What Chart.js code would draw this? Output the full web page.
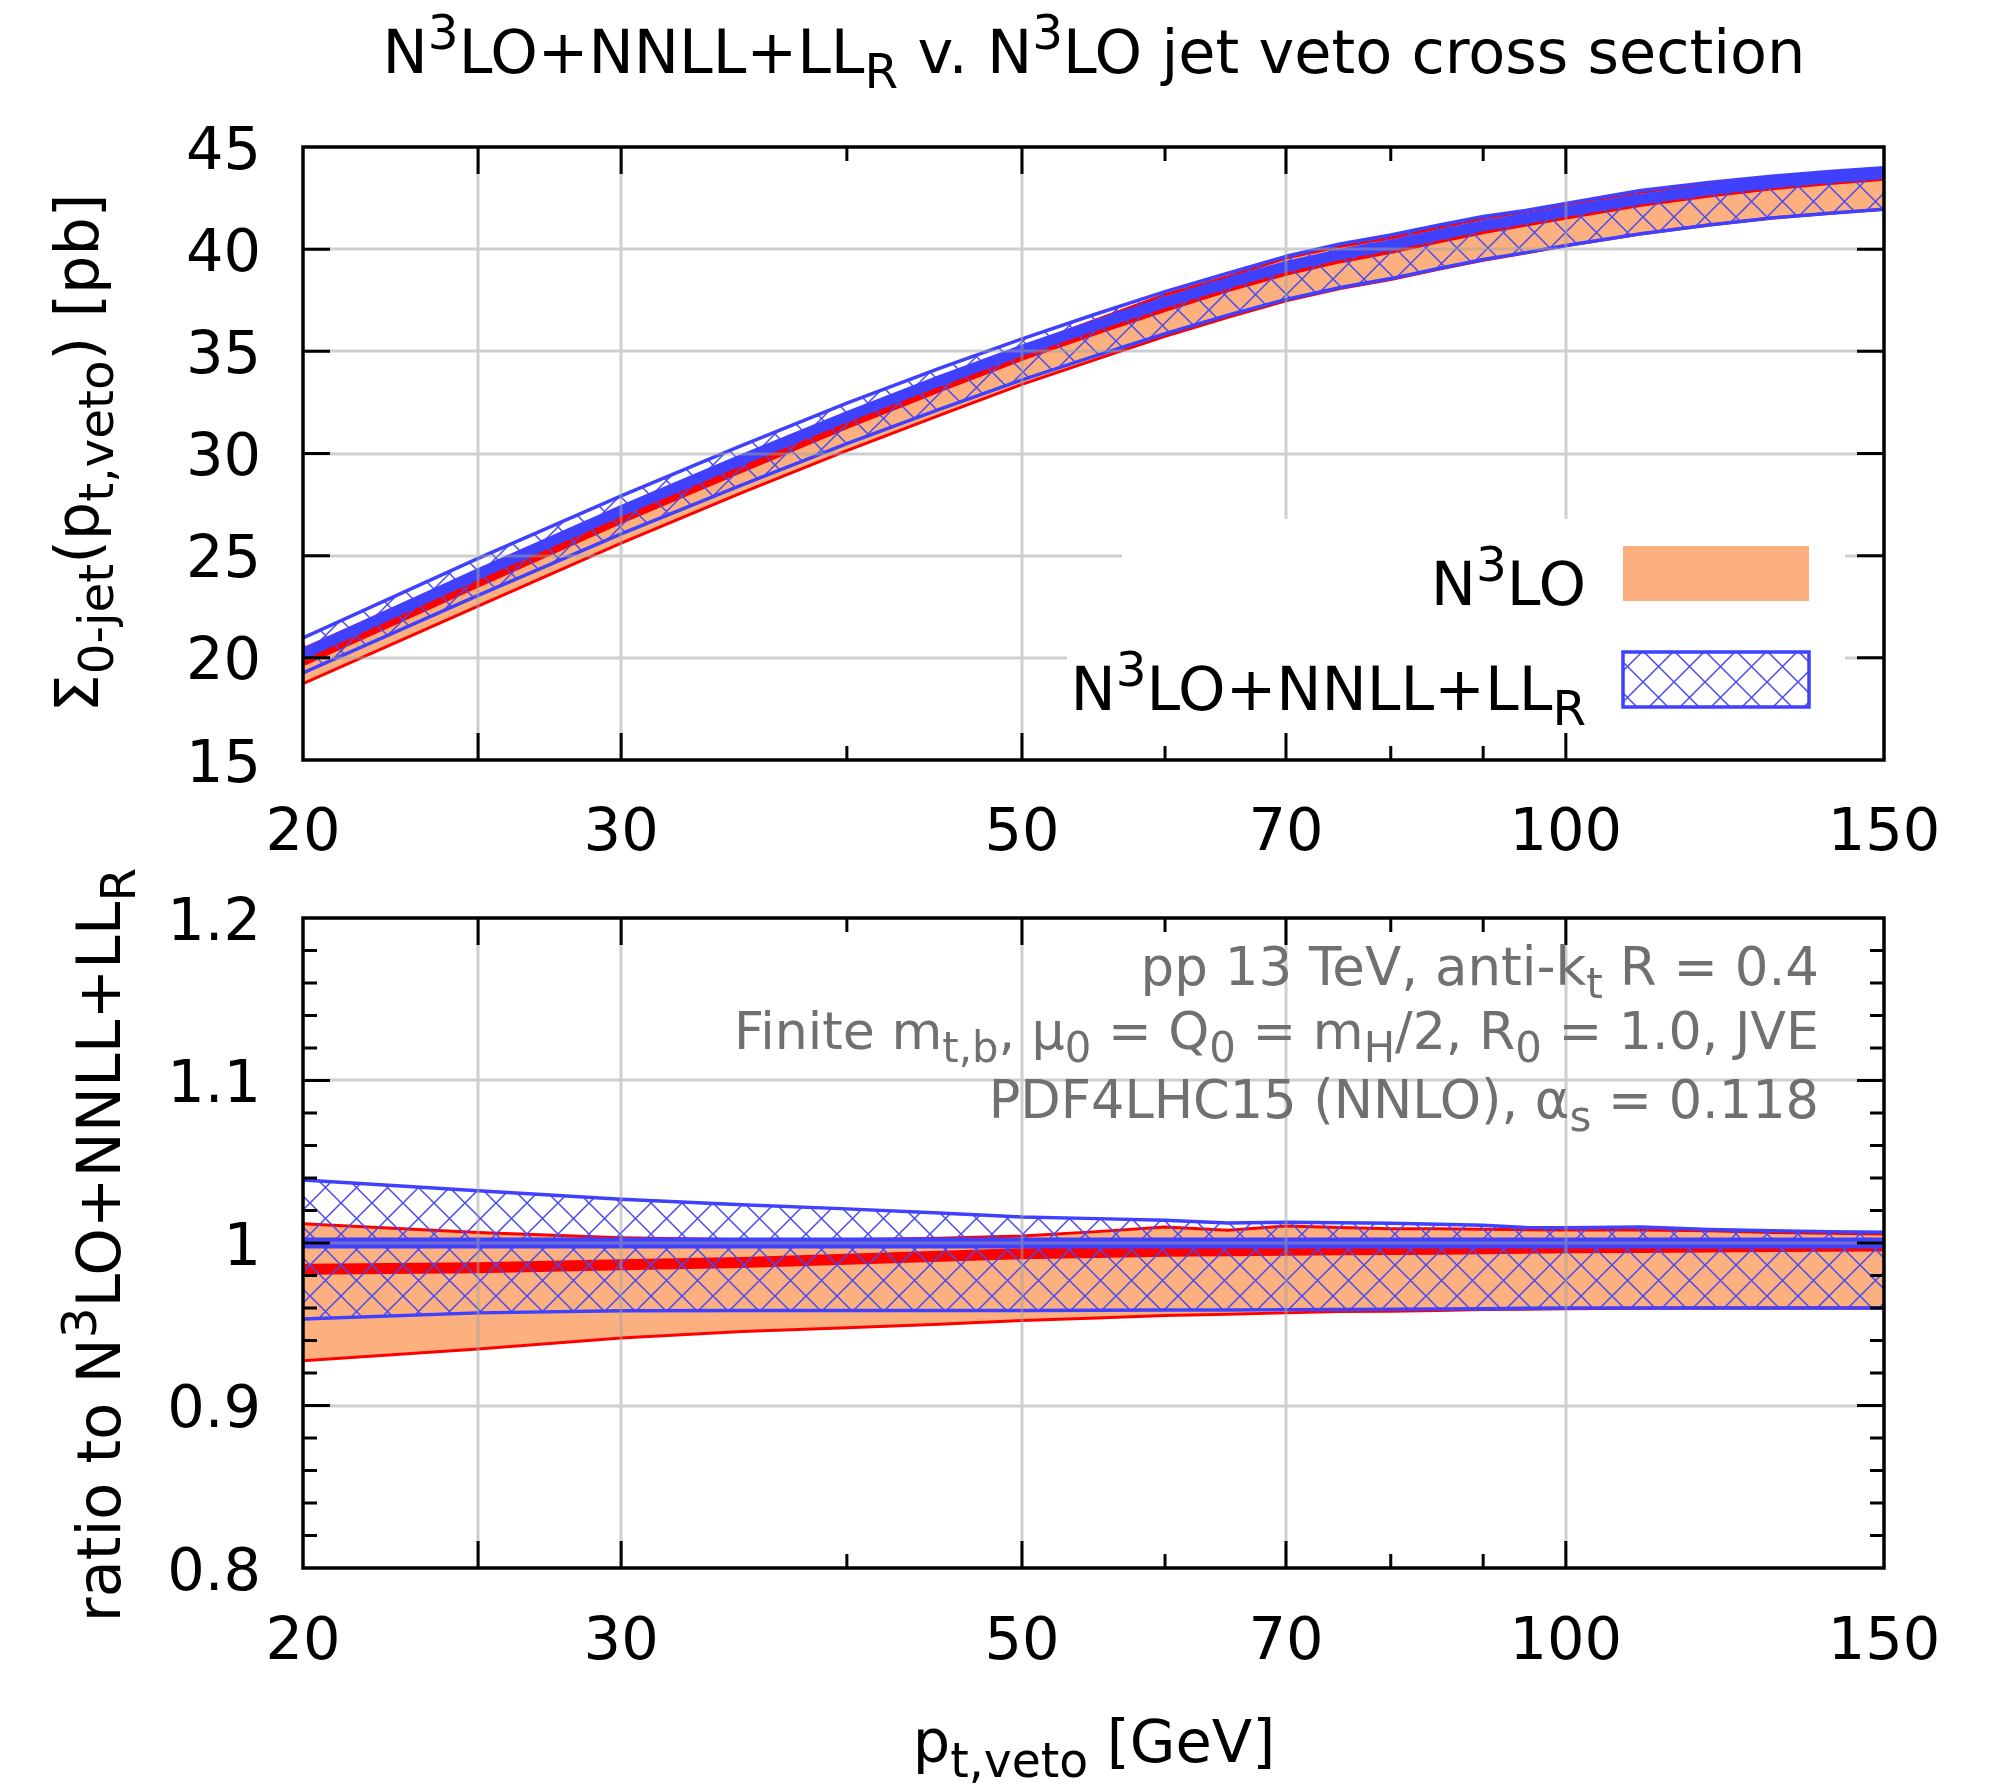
<!DOCTYPE html>
<html>
<head>
<meta charset="utf-8">
<script src="https://cdn.jsdelivr.net/npm/chart.js@4.4.0/dist/chart.umd.min.js"></script>
<style>
body{margin:0;background:#fff;width:1999px;height:1784px;position:relative;overflow:hidden}
canvas{position:absolute;left:0}
#top{top:0}
#bot{top:800px}
</style>
</head>
<body>
<canvas id="top" width="1999" height="880"></canvas>
<canvas id="bot" width="1999" height="984"></canvas>
<script>
// pt,veto [GeV]
var ptveto = [20,25,30,35,40,45,50,55,60,65,70,75,80,85,90,95,100,110,120,130,140,150];

// top panel, Sigma_0-jet [pb]
var n3loLo  = [18.74,22.53,25.61,28.08,30.14,31.87,33.38,34.62,35.73,36.67,37.47,38.07,38.51,39.01,39.46,39.81,40.16,40.74,41.18,41.52,41.76,41.95];
var n3loMid = [19.87,23.73,26.84,29.34,31.48,33.27,34.82,36.09,37.21,38.17,38.97,39.58,40.04,40.55,41.01,41.37,41.72,42.34,42.80,43.15,43.41,43.62];
var n3loHi  = [20.44,24.25,27.29,29.76,31.86,33.65,35.20,36.55,37.77,38.65,39.56,40.13,40.55,41.05,41.50,41.84,42.18,42.79,43.22,43.53,43.76,43.94];
var resLo   = [19.26,23.06,26.07,28.47,30.48,32.16,33.60,34.80,35.86,36.77,37.54,38.12,38.56,39.05,39.49,39.83,40.18,40.75,41.18,41.52,41.76,41.95];
var resMid  = [20.20,24.10,27.20,29.70,31.80,33.55,35.05,36.30,37.40,38.35,39.15,39.75,40.20,40.70,41.15,41.50,41.85,42.45,42.90,43.25,43.50,43.70];
var resHi   = [20.98,24.87,27.93,30.40,32.47,34.17,35.61,36.84,37.92,38.82,39.65,40.25,40.69,41.17,41.60,41.89,42.24,42.87,43.26,43.57,43.80,43.99];

// bottom panel, ratio to N3LO+NNLL+LLR
var rN3loLo  = [0.9276,0.9348,0.9416,0.9455,0.9478,0.9500,0.9523,0.9538,0.9554,0.9562,0.9570,0.9578,0.9580,0.9585,0.9590,0.9592,0.9595,0.9598,0.9600,0.9600,0.9600,0.9600];
var rN3loMid = [0.9838,0.9848,0.9866,0.9880,0.9900,0.9918,0.9934,0.9942,0.9949,0.9953,0.9955,0.9958,0.9960,0.9962,0.9965,0.9968,0.9970,0.9973,0.9976,0.9978,0.9980,0.9982];
var rN3loHi  = [1.0119,1.0064,1.0033,1.0020,1.0020,1.0030,1.0043,1.0070,1.0099,1.0078,1.0105,1.0095,1.0088,1.0087,1.0085,1.0082,1.0080,1.0080,1.0075,1.0065,1.0060,1.0055];
var rResLo   = [0.9533,0.9570,0.9583,0.9585,0.9585,0.9585,0.9585,0.9586,0.9587,0.9588,0.9590,0.9591,0.9592,0.9594,0.9596,0.9598,0.9600,0.9600,0.9600,0.9600,0.9600,0.9600];
var rResMid  = [1,1,1,1,1,1,1,1,1,1,1,1,1,1,1,1,1,1,1,1,1,1];
var rResHi   = [1.0387,1.0321,1.0269,1.0235,1.0210,1.0185,1.0160,1.0150,1.0140,1.0123,1.0128,1.0125,1.0122,1.0115,1.0109,1.0095,1.0094,1.0099,1.0083,1.0075,1.0070,1.0066];

// ticks
var xLabels = [20,30,50,70,100,150];
var xMajor = [25,30,50,70,100];
var xMinor = [40,60,80,90];
var yTopLabels = [15,20,25,30,35,40,45];
var yTopMajor = [20,25,30,35,40];
var yBotLabels = [0.8,0.9,1.0,1.1,1.2];
var yBotMajor = [0.9,1.0,1.1];
var yBotMinor = [0.82,0.84,0.86,0.88,0.92,0.94,0.96,0.98,1.02,1.04,1.06,1.08,1.12,1.14,1.16,1.18];

var FONT = '"DejaVu Sans"';
var FS = 59;     // tick labels, x title
var FT = 60.5;   // title, key, y titles
var orange = '#fcb080';
var red = '#ff0000';
var blue = '#4040ff';

Chart.defaults.font.family = FONT;

function hatch(){
  var c = document.createElement('canvas');
  c.width = 31; c.height = 31;
  var g = c.getContext('2d');
  g.strokeStyle = '#4a4af2';
  g.lineWidth = 1.5;
  g.beginPath();
  g.moveTo(-4,-4); g.lineTo(35,35);
  g.moveTo(35,-4); g.lineTo(-4,35);
  g.stroke();
  return g.createPattern(c,'repeat');
}

function pts(arr){
  return ptveto.map(function(x,i){ return {x:x, y:arr[i]}; });
}
function band(hi, target, bg, ord){
  return {data:pts(hi), borderColor:'rgba(0,0,0,0)', borderWidth:0, pointRadius:0, fill:target, backgroundColor:bg, order:ord};
}
function line(arr, col, w, ord){
  return {data:pts(arr), borderColor:col, borderWidth:w, pointRadius:0, fill:false, order:ord, borderJoinStyle:'round'};
}

// text with gnuplot style sub/superscripts: [text, 0 normal | 1 sup | -1 sub]
function richWidth(ctx, parts, size){
  var w = 0;
  parts.forEach(function(p){
    ctx.font = (p[1] ? size*0.8 : size) + 'px ' + FONT;
    w += ctx.measureText(p[0]).width;
  });
  return w;
}
function richText(ctx, parts, x, y, align, size, col){
  var w = richWidth(ctx, parts, size);
  var cx = align=='right' ? x-w : (align=='center' ? x-w/2 : x);
  ctx.fillStyle = col;
  ctx.textAlign = 'left';
  ctx.textBaseline = 'alphabetic';
  parts.forEach(function(p){
    var s = p[1] ? size*0.8 : size;
    ctx.font = s + 'px ' + FONT;
    var dy = p[1]==1 ? -0.4*size : (p[1]==-1 ? 0.25*size : 0);
    ctx.fillText(p[0], cx, y+dy);
    cx += ctx.measureText(p[0]).width;
  });
}
function rotText(ctx, parts, x, y, size){
  ctx.save();
  ctx.translate(x,y);
  ctx.rotate(-Math.PI/2);
  richText(ctx, parts, 0, 0, 'center', size, '#000');
  ctx.restore();
}

function frame(cfg){
  return {
    id:'gnuFrame',
    afterDatasetsDraw:function(chart){
      var ctx = chart.ctx, a = chart.chartArea;
      var xs = chart.scales.x, ys = chart.scales.y;
      ctx.save();
      // grid in front of the bands
      ctx.strokeStyle = 'rgba(160,160,160,0.5)';
      ctx.lineWidth = 3;
      ctx.beginPath();
      xMajor.forEach(function(v){
        var p = Math.round(xs.getPixelForValue(v));
        ctx.moveTo(p,a.top); ctx.lineTo(p,a.bottom);
      });
      cfg.yMajor.forEach(function(v){
        var p = Math.round(ys.getPixelForValue(v));
        ctx.moveTo(a.left,p); ctx.lineTo(a.right,p);
      });
      ctx.stroke();

      if (cfg.extra) cfg.extra(ctx, chart);

      // border and inward ticks, mirrored
      ctx.strokeStyle = '#000';
      ctx.lineWidth = 3.5;
      ctx.strokeRect(a.left, a.top, a.right-a.left, a.bottom-a.top);
      ctx.lineWidth = 3;
      ctx.beginPath();
      function xt(v,len){
        var p = xs.getPixelForValue(v);
        ctx.moveTo(p,a.bottom); ctx.lineTo(p,a.bottom-len);
        ctx.moveTo(p,a.top); ctx.lineTo(p,a.top+len);
      }
      function yt(v,len){
        var p = ys.getPixelForValue(v);
        ctx.moveTo(a.left,p); ctx.lineTo(a.left+len,p);
        ctx.moveTo(a.right,p); ctx.lineTo(a.right-len,p);
      }
      xMajor.forEach(function(v){ xt(v,27); });
      xMinor.forEach(function(v){ xt(v,14); });
      cfg.yMajor.forEach(function(v){ yt(v,27); });
      cfg.yMinor.forEach(function(v){ yt(v,14); });
      ctx.stroke();

      // tick labels
      ctx.fillStyle = '#000';
      ctx.font = FS + 'px ' + FONT;
      ctx.textBaseline = 'alphabetic';
      ctx.textAlign = 'center';
      xLabels.forEach(function(v){
        ctx.fillText(String(v), xs.getPixelForValue(v), a.bottom + cfg.xLabOff);
      });
      ctx.textAlign = 'right';
      cfg.yLabels.forEach(function(v){
        ctx.fillText(cfg.yFmt(v), 261, ys.getPixelForValue(v) + 21.5);
      });

      if (cfg.texts) cfg.texts(ctx, chart);
      ctx.restore();
    }
  };
}

function opts(ymin, ymax, padTop, padBot){
  return {
    responsive:false, animation:false, devicePixelRatio:1,
    layout:{padding:{left:303, right:115, top:padTop, bottom:padBot}},
    scales:{
      x:{type:'logarithmic', min:20, max:150, display:false},
      y:{type:'linear', min:ymin, max:ymax, display:false}
    },
    plugins:{legend:{display:false}, tooltip:{enabled:false}, filler:{drawTime:'beforeDatasetDraw'}},
    elements:{line:{tension:0}}
  };
}

var pat = hatch();

// top panel
new Chart(document.getElementById('top'), {
  type:'line',
  data:{datasets:[
    band(n3loHi, 1, orange, 10),
    line(n3loLo, red, 3, 9),
    line(n3loHi, red, 3, 8),
    line(n3loMid, red, 11, 7),
    band(resHi, 5, pat, 6),
    line(resLo, blue, 3.5, 5),
    line(resHi, blue, 3.5, 4),
    line(resMid, blue, 11, 3)
  ]},
  options:opts(15, 45, 147, 120),
  plugins:[frame({
    yMajor:yTopMajor, yMinor:[], yLabels:yTopLabels,
    yFmt:function(v){ return String(v); },
    xLabOff:90,
    extra:function(ctx){
      // opaque key
      ctx.fillStyle = '#fff';
      ctx.fillRect(1122, 519, 723, 113);
      ctx.fillRect(1067, 632, 778, 128);
      ctx.fillStyle = orange;
      ctx.fillRect(1623, 546, 186, 55);
      ctx.fillStyle = pat;
      ctx.fillRect(1623, 652, 186, 55);
      ctx.strokeStyle = blue;
      ctx.lineWidth = 3.5;
      ctx.strokeRect(1623, 652, 186, 55);
      richText(ctx, [['N',0],['3',1],['LO',0]], 1586, 605, 'right', FT, '#000');
      richText(ctx, [['N',0],['3',1],['LO+NNLL+LL',0],['R',-1]], 1586, 710, 'right', FT, '#000');
    },
    texts:function(ctx){
      richText(ctx, [['N',0],['3',1],['LO+NNLL+LL',0],['R',-1],[' v. N',0],['3',1],['LO jet veto cross section',0]], 1094, 73, 'center', FT, '#000');
      rotText(ctx, [['\u03a3',0],['0-jet',-1],['(p',0],['t,veto',-1],[') [pb]',0]], 98, 453, FT);
    }
  })]
});

// ratio panel
new Chart(document.getElementById('bot'), {
  type:'line',
  data:{datasets:[
    band(rN3loHi, 1, orange, 10),
    line(rN3loLo, red, 3, 9),
    line(rN3loHi, red, 3, 8),
    line(rN3loMid, red, 11, 7),
    band(rResHi, 5, pat, 6),
    line(rResLo, blue, 3.5, 5),
    line(rResHi, blue, 3.5, 4),
    line(rResMid, blue, 11, 3)
  ]},
  options:opts(0.8, 1.2, 118, 216),
  plugins:[frame({
    yMajor:yBotMajor, yMinor:yBotMinor, yLabels:yBotLabels,
    yFmt:function(v){ return v==1 ? '1' : v.toFixed(1); },
    xLabOff:91,
    texts:function(ctx){
      var g = '#707070';
      richText(ctx, [['pp 13 TeV, anti-k',0],['t',-1],[' R = 0.4',0]], 1819, 185, 'right', 53, g);
      richText(ctx, [['Finite m',0],['t,b',-1],[', \u03bc',0],['0',-1],[' = Q',0],['0',-1],[' = m',0],['H',-1],['/2, R',0],['0',-1],[' = 1.0, JVE',0]], 1819, 249, 'right', 52.2, g);
      richText(ctx, [['PDF4LHC15 (NNLO), \u03b1',0],['s',-1],[' = 0.118',0]], 1819, 318, 'right', 52.5, g);
      rotText(ctx, [['ratio to N',0],['3',1],['LO+NNLL+LL',0],['R',-1]], 120, 445, FT);
      richText(ctx, [['p',0],['t,veto',-1],[' [GeV]',0]], 1094, 962, 'center', FS, '#000');
    }
  })]
});
</script>
</body>
</html>
